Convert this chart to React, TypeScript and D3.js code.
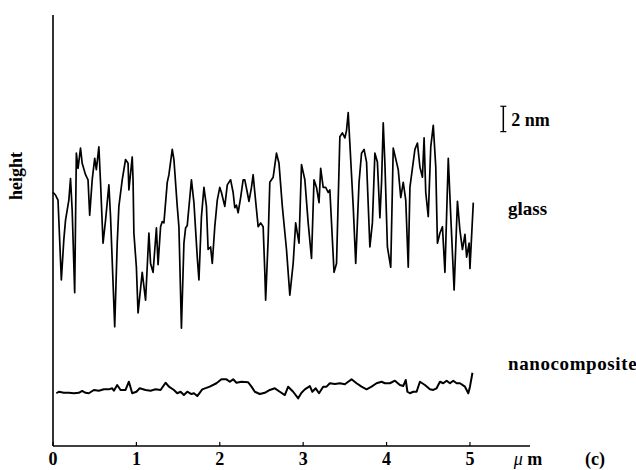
import React from 'react';
import * as d3 from 'd3';

// profile traces: [position in µm, height in nm]
const glass: [number, number][] = [
  [0.0, 20.0], [0.03, 19.8], [0.06, 19.4], [0.1, 13.1], [0.13, 16.3], [0.15, 17.8], [0.19, 19.4],
  [0.21, 21.1], [0.23, 18.6], [0.26, 12.1], [0.28, 23.1], [0.3, 21.9], [0.33, 23.5], [0.35, 22.3],
  [0.39, 21.4], [0.42, 21.0], [0.44, 18.2], [0.47, 21.0], [0.5, 22.7], [0.52, 21.8], [0.55, 23.6],
  [0.57, 20.8], [0.6, 16.0], [0.63, 17.8], [0.67, 20.6], [0.69, 18.1], [0.74, 9.4], [0.77, 16.0],
  [0.79, 18.9], [0.83, 21.0], [0.87, 22.6], [0.9, 22.3], [0.91, 20.2], [0.95, 22.8], [0.96, 21.0],
  [0.97, 16.8], [1.0, 14.1], [1.02, 10.5], [1.07, 13.7], [1.11, 11.5], [1.15, 16.8], [1.17, 14.4],
  [1.2, 13.7], [1.24, 17.2], [1.26, 14.3], [1.29, 17.3], [1.31, 17.7], [1.33, 17.6], [1.37, 20.8],
  [1.39, 21.4], [1.43, 23.4], [1.45, 22.6], [1.49, 18.9], [1.51, 17.3], [1.54, 9.3], [1.57, 16.0],
  [1.59, 17.2], [1.61, 17.4], [1.66, 21.0], [1.69, 19.2], [1.73, 14.9], [1.75, 13.1], [1.78, 18.1],
  [1.81, 20.4], [1.84, 18.9], [1.86, 15.5], [1.89, 15.7], [1.91, 14.4], [1.94, 17.3], [1.97, 19.4],
  [2.0, 20.4], [2.02, 20.0], [2.06, 18.9], [2.09, 20.6], [2.13, 21.0], [2.16, 20.0], [2.18, 18.8],
  [2.2, 19.0], [2.22, 18.4], [2.25, 19.6], [2.28, 21.0], [2.3, 21.0], [2.33, 20.0], [2.35, 19.3],
  [2.38, 20.4], [2.4, 21.4], [2.42, 20.0], [2.46, 17.3], [2.49, 17.6], [2.52, 17.3], [2.54, 13.7],
  [2.55, 11.5], [2.58, 16.3], [2.6, 20.8], [2.64, 21.2], [2.68, 23.1], [2.71, 22.3], [2.75, 18.9],
  [2.8, 15.5], [2.84, 11.9], [2.88, 14.4], [2.91, 17.6], [2.93, 16.8], [2.95, 16.0], [2.98, 22.2],
  [3.02, 21.0], [3.06, 17.6], [3.1, 14.8], [3.13, 21.0], [3.16, 20.4], [3.19, 19.2], [3.21, 21.9],
  [3.24, 20.4], [3.27, 20.4], [3.3, 20.0], [3.32, 20.2], [3.37, 13.7], [3.4, 14.4], [3.44, 24.4],
  [3.47, 24.7], [3.5, 24.3], [3.52, 24.9], [3.54, 26.3], [3.57, 22.6], [3.6, 18.9], [3.63, 14.4],
  [3.67, 20.8], [3.7, 23.1], [3.73, 23.4], [3.76, 22.4], [3.8, 15.7], [3.83, 17.6], [3.86, 23.1],
  [3.89, 22.4], [3.92, 18.0], [3.94, 20.8], [3.96, 25.5], [3.98, 22.3], [4.01, 15.7], [4.05, 14.1],
  [4.08, 23.5], [4.14, 21.8], [4.17, 19.6], [4.2, 20.8], [4.23, 19.4], [4.26, 14.1], [4.28, 20.4],
  [4.34, 23.4], [4.37, 23.9], [4.4, 22.0], [4.43, 21.2], [4.45, 24.3], [4.47, 20.0], [4.5, 18.1],
  [4.53, 23.6], [4.56, 25.3], [4.59, 22.0], [4.61, 16.0], [4.64, 16.8], [4.67, 17.3], [4.7, 13.7],
  [4.74, 22.7], [4.77, 18.1], [4.81, 12.3], [4.85, 19.3], [4.88, 17.0], [4.91, 15.5], [4.94, 16.7],
  [4.96, 14.9], [4.99, 16.0], [5.0, 14.0], [5.04, 19.2],
];

const nanocomposite: [number, number][] = [
  [0.04, 4.16], [0.07, 4.28], [0.13, 4.2], [0.19, 4.2], [0.25, 4.16], [0.31, 4.2], [0.35, 4.34],
  [0.39, 4.2], [0.43, 4.16], [0.49, 4.42], [0.55, 4.36], [0.61, 4.47], [0.67, 4.47], [0.71, 4.55],
  [0.73, 4.36], [0.77, 4.81], [0.81, 4.42], [0.87, 4.42], [0.91, 5.07], [0.95, 4.16], [1.0, 4.28],
  [1.04, 4.55], [1.11, 4.42], [1.17, 4.36], [1.23, 4.47], [1.29, 4.42], [1.35, 4.99], [1.39, 4.68],
  [1.45, 4.42], [1.49, 4.16], [1.53, 4.28], [1.57, 4.02], [1.61, 4.28], [1.66, 4.1], [1.69, 4.16],
  [1.73, 3.94], [1.79, 4.47], [1.88, 4.68], [1.96, 4.95], [2.02, 5.26], [2.08, 5.26], [2.12, 5.07],
  [2.16, 5.26], [2.2, 4.99], [2.26, 5.07], [2.34, 5.03], [2.38, 4.68], [2.42, 4.28], [2.48, 4.1],
  [2.54, 4.2], [2.6, 4.42], [2.66, 4.55], [2.72, 4.28], [2.78, 4.02], [2.82, 4.68], [2.88, 4.28],
  [2.94, 3.76], [2.98, 4.2], [3.02, 4.47], [3.08, 4.73], [3.11, 4.28], [3.15, 4.55], [3.19, 4.16],
  [3.24, 4.68], [3.28, 4.68], [3.32, 4.95], [3.38, 4.89], [3.44, 4.95], [3.5, 4.87], [3.54, 5.07],
  [3.58, 5.26], [3.64, 4.95], [3.7, 4.68], [3.76, 4.47], [3.82, 4.68], [3.88, 4.95], [3.94, 5.07],
  [3.98, 4.95], [4.04, 4.95], [4.1, 5.15], [4.16, 4.81], [4.2, 4.73], [4.23, 5.21], [4.25, 4.28],
  [4.28, 4.16], [4.32, 4.28], [4.36, 4.28], [4.4, 5.07], [4.46, 4.81], [4.52, 4.47], [4.56, 4.42],
  [4.6, 4.55], [4.64, 5.07], [4.68, 4.95], [4.72, 5.15], [4.76, 4.95], [4.8, 5.15], [4.84, 4.95],
  [4.88, 4.95], [4.94, 4.68], [4.98, 4.16], [5.0, 4.68], [5.03, 5.78],
];

const xTicks = [0, 1, 2, 3, 4, 5];
const scaleBarFrom = 24.8; // nm, bottom of the 2 nm bar
const scaleBarSize = 2;

const width = 636;
const height = 470;
const font = "'Liberation Serif', 'DejaVu Serif', serif";

export default function App() {
  const x = d3.scaleLinear().domain([0, 5.72]).range([53, 530]);
  const y = d3.scaleLinear().domain([0, 34]).range([446, 15]);
  const line = d3.line<[number, number]>().x(d => x(d[0])).y(d => y(d[1]));

  const barX = x(5.4);
  const barTop = y(scaleBarFrom + scaleBarSize);
  const barBottom = y(scaleBarFrom);
  const labelY = y(0) + 19;

  return (
    <svg width={width} height={height}
      style={{ position: 'absolute', left: 0, top: 0, background: '#fff', fontFamily: font, fontWeight: 'bold', fontSize: 18 }}>
      {/* axes */}
      <line x1={x(0)} x2={x(0)} y1={y(34)} y2={y(0)} stroke="#000" strokeWidth={1.6} />
      <line x1={x(0)} x2={x(5.72)} y1={y(0)} y2={y(0)} stroke="#000" strokeWidth={1.6} />
      {xTicks.map(t => (
        <g key={t}>
          <line x1={x(t)} x2={x(t)} y1={y(0)} y2={y(0) - 4} stroke="#000" strokeWidth={1.2} />
          <text x={x(t)} y={labelY} textAnchor="middle">{t}</text>
        </g>
      ))}
      <text x={x(5.72) - 2} y={labelY} textAnchor="middle">
        <tspan style={{ fontStyle: 'italic', fontWeight: 'normal' }}>μ</tspan> m
      </text>
      <text x={595} y={labelY} textAnchor="middle">(c)</text>

      <text transform={`translate(${x(0) - 31},${y(21.3)}) rotate(-90)`} textAnchor="middle">height</text>

      {/* profiles */}
      <path d={line(glass) ?? ''} fill="none" stroke="#000" strokeWidth={1.7} strokeLinejoin="round" />
      <path d={line(nanocomposite) ?? ''} fill="none" stroke="#000" strokeWidth={2} strokeLinejoin="round" />

      {/* 2 nm scale bar */}
      <line x1={barX} x2={barX} y1={barTop} y2={barBottom} stroke="#000" strokeWidth={1.5} />
      <line x1={barX - 3} x2={barX + 3} y1={barTop} y2={barTop} stroke="#000" strokeWidth={1.2} />
      <line x1={barX - 3} x2={barX + 3} y1={barBottom} y2={barBottom} stroke="#000" strokeWidth={1.2} />
      <text x={barX + 8} y={(barTop + barBottom) / 2 + 7}>2 nm</text>

      <text x={508} y={y(18.2)} fontSize={19}>glass</text>
      <text x={508} y={y(6.0)} fontSize={19} letterSpacing={0.6}>nanocomposite</text>
    </svg>
  );
}
